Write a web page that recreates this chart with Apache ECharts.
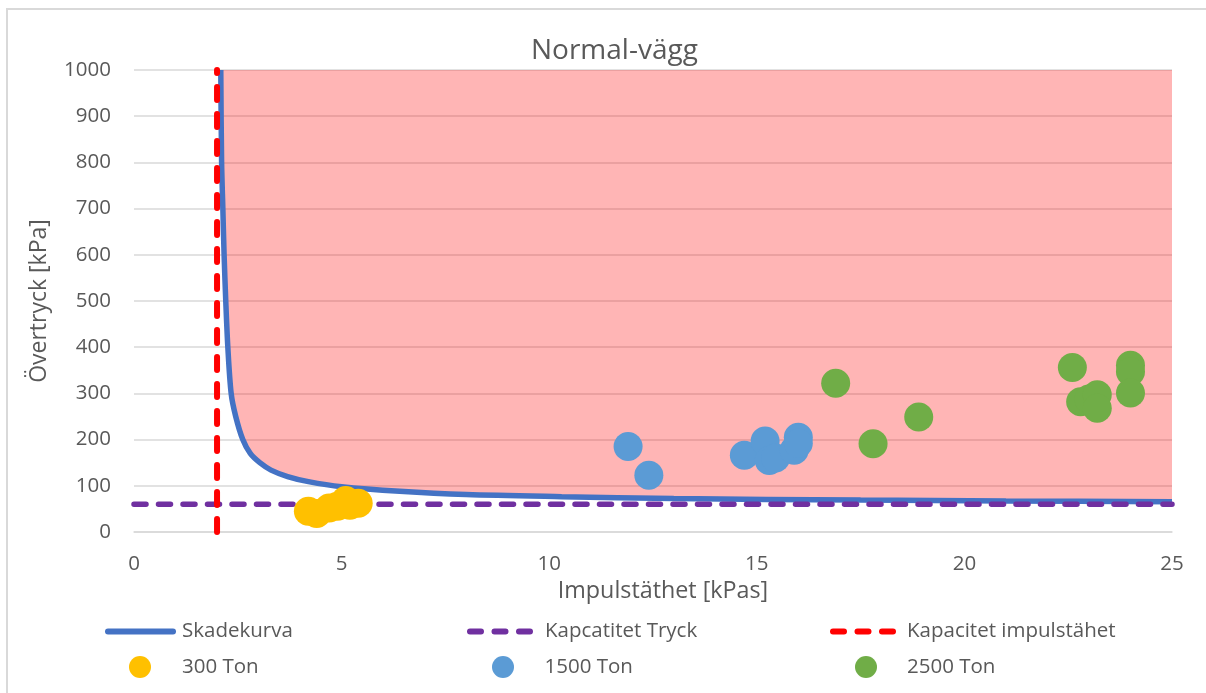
<!DOCTYPE html>
<html>
<head>
<meta charset="utf-8">
<title>Normal-vägg</title>
<script src="https://cdn.jsdelivr.net/npm/echarts@6/dist/echarts.min.js"></script>
<style>
  html, body { margin: 0; padding: 0; background: #ffffff; }
  #chart { width: 1206px; height: 693px; }
</style>
</head>
<body>
<div id="chart"></div>
<script>
// Skadekurva: pressure-impulse damage curve, [impulstäthet kPas, övertryck kPa]
const skadekurva = [
  [2.09, 1000], [2.11, 800], [2.14, 700], [2.17, 600], [2.21, 500],
  [2.26, 400], [2.34, 300], [2.45, 250], [2.62, 200], [2.80, 170],
  [3.03, 150], [3.3, 134], [3.7, 120], [4.2, 109], [5.0, 98],
  [6.4, 88], [8.0, 81], [10.3, 76.5], [13.0, 72.5], [17.5, 69],
  [21.0, 67], [25.0, 65.5]
];
// Capacity limits
const kapacitetTryck = 60;       // kPa
const kapacitetImpuls = 2;       // kPas
// Load cases per charge size: [impulstäthet, övertryck]
const ton300 = [
  [4.2, 45], [4.4, 40], [4.7, 52], [4.9, 56], [5.1, 68], [5.4, 62], [5.2, 58]
];
const ton1500 = [
  [11.9, 185], [12.4, 123], [14.7, 166], [15.2, 197], [15.3, 155],
  [15.45, 160], [15.9, 177], [16.0, 205], [16.0, 192]
];
const ton2500 = [
  [16.9, 322], [17.8, 191], [18.9, 249], [22.6, 356], [22.8, 282],
  [23.0, 288], [23.2, 297], [23.2, 268], [24.0, 361], [24.0, 347], [24.0, 301]
];
const seriesNames = ['Skadekurva', 'Kapcatitet Tryck', 'Kapacitet impulstähet', '300 Ton', '1500 Ton', '2500 Ton'];
const xMin = 0, xMax = 25, xStep = 5;
const yMin = 0, yMax = 1000, yStep = 100;

const FONT = 'Open Sans';
const TEXT = '#595959';
const GRID = '#D9D9D9';
const C_CURVE = '#4472C4', C_TRYCK = '#7030A0', C_IMPULS = '#FF0000';
const C_300 = '#FFC000', C_1500 = '#5B9BD5', C_2500 = '#70AD47';

// Legend glyphs: a solid rounded bar and three rounded dashes
const ICON_SOLID = 'path://M3,0H68A3,3 0 0 1 68,6H3A3,3 0 0 1 3,0Z';
const ICON_DASH = 'path://M3,0H14A3,3 0 0 1 14,6H3A3,3 0 0 1 3,0Z' +
  'M27.5,0H38.5A3,3 0 0 1 38.5,6H27.5A3,3 0 0 1 27.5,0Z' +
  'M52,0H63A3,3 0 0 1 63,6H52A3,3 0 0 1 52,0Z';

const chart = echarts.init(document.getElementById('chart'), null, { renderer: 'canvas' });

function legendAt(name, left, top, opts) {
  return Object.assign({
    data: [name],
    left: left,
    top: top,
    orient: 'horizontal',
    itemWidth: 71,
    itemHeight: 22,
    padding: 0,
    selectedMode: false,
    itemStyle: { borderWidth: 0 },
    textStyle: { color: TEXT, fontSize: 20.5, fontFamily: FONT, padding: [0, 0, 0, opts.pad || 0] }
  }, opts.extra || {});
}

chart.setOption({
  animation: false,
  backgroundColor: '#ffffff',
  textStyle: { fontFamily: FONT },
  graphic: [{
    type: 'rect',
    shape: { x: 7, y: 9, width: 1220, height: 720 },
    style: { fill: 'none', stroke: GRID, lineWidth: 2 },
    silent: true
  }],
  title: {
    text: 'Normal-vägg',
    left: 526,
    top: 32,
    textStyle: { color: TEXT, fontSize: 28, fontWeight: 'normal', fontFamily: FONT }
  },
  legend: [
    legendAt(seriesNames[0], 105, 621, { pad: 1, extra: { icon: ICON_SOLID, itemWidth: 71 } }),
    legendAt(seriesNames[1], 467, 621, { pad: 7, extra: { icon: ICON_DASH, itemWidth: 66 } }),
    legendAt(seriesNames[2], 830, 621, { pad: 6, extra: { icon: ICON_DASH, itemWidth: 66 } }),
    legendAt(seriesNames[3], 129, 656, { pad: 1.5 }),
    legendAt(seriesNames[4], 492, 656, { pad: 1 }),
    legendAt(seriesNames[5], 855, 656, { pad: 0.5 })
  ],
  grid: { left: 134, right: 34, top: 70, bottom: 161, containLabel: false },
  xAxis: {
    type: 'value',
    min: xMin, max: xMax, interval: xStep,
    name: 'Impulstäthet [kPas]',
    nameLocation: 'middle',
    nameGap: 44,
    nameTextStyle: { color: TEXT, fontSize: 23.3, fontFamily: FONT, padding: [0, 0, 0, 20] },
    axisLine: { show: true, lineStyle: { color: GRID, width: 1.5 } },
    axisTick: { show: false },
    axisLabel: { color: TEXT, fontSize: 20.5, fontFamily: FONT, margin: 22 },
    splitLine: { show: false }
  },
  yAxis: {
    type: 'value',
    min: yMin, max: yMax, interval: yStep,
    name: 'Övertryck [kPa]',
    nameLocation: 'middle',
    nameGap: 83,
    nameRotate: 90,
    nameTextStyle: { color: TEXT, fontSize: 23, fontFamily: FONT },
    axisLine: { show: false },
    axisTick: { show: false },
    axisLabel: { color: TEXT, fontSize: 20.5, fontFamily: FONT, margin: 23, formatter: v => String(v) },
    splitLine: { show: true, lineStyle: { color: GRID, width: 1.5 } }
  },
  series: [
    {
      name: seriesNames[0],
      type: 'line',
      data: skadekurva,
      smooth: 0.3,
      symbol: 'none',
      lineStyle: { color: C_CURVE, width: 5.5 },
      itemStyle: { color: C_CURVE },
      areaStyle: { origin: 'end', color: 'rgba(255, 0, 0, 0.29)', opacity: 1 },
      z: 2
    },
    {
      name: seriesNames[1],
      type: 'line',
      data: [[xMin, kapacitetTryck], [xMax, kapacitetTryck]],
      symbol: 'none',
      lineStyle: { color: C_TRYCK, width: 5.5, type: [12, 12.5], cap: 'round' },
      itemStyle: { color: C_TRYCK },
      z: 3
    },
    {
      name: seriesNames[2],
      type: 'line',
      data: [[kapacitetImpuls, yMin], [kapacitetImpuls, yMax]],
      symbol: 'none',
      lineStyle: { color: C_IMPULS, width: 6, type: [13, 14], cap: 'round' },
      itemStyle: { color: C_IMPULS },
      z: 3
    },
    {
      name: seriesNames[3],
      type: 'scatter',
      data: ton300,
      symbol: 'circle',
      symbolSize: 29,
      itemStyle: { color: C_300, opacity: 1 },
      z: 4
    },
    {
      name: seriesNames[4],
      type: 'scatter',
      data: ton1500,
      symbol: 'circle',
      symbolSize: 29,
      itemStyle: { color: C_1500, opacity: 1 },
      z: 4
    },
    {
      name: seriesNames[5],
      type: 'scatter',
      data: ton2500,
      symbol: 'circle',
      symbolSize: 29,
      itemStyle: { color: C_2500, opacity: 1 },
      z: 4
    }
  ]
});
</script>
</body>
</html>
